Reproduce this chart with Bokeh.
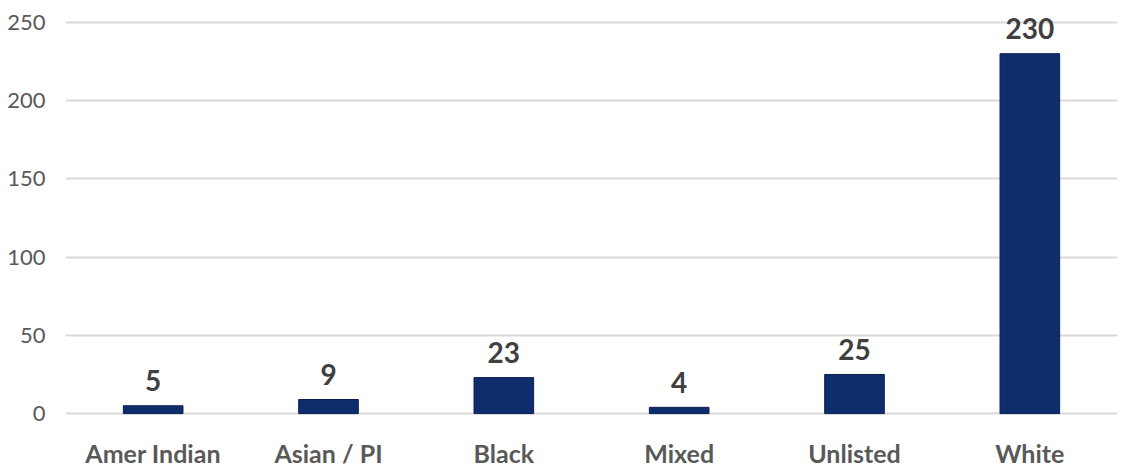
from bokeh.plotting import figure
from bokeh.models import Range1d, ColumnDataSource, FixedTicker, LabelSet
from bokeh.embed import file_html
from bokeh.resources import INLINE
from bokeh.core.properties import value

categories = ["Amer Indian", "Asian / PI", "Black", "Mixed", "Unlisted", "White"]
counts = [5, 9, 23, 4, 25, 230]
y_ticks = [0, 50, 100, 150, 200, 250]

src = ColumnDataSource(dict(cat=categories, val=counts, lab=[str(v) for v in counts],
                            zero=[0] * len(categories)))

p = figure(x_range=categories, y_range=Range1d(-37, 264), width=1122, height=471,
           output_backend="svg", toolbar_location=None,
           min_border_left=65, min_border_right=5, min_border_top=0, min_border_bottom=0)
p.outline_line_color = None
p.background_fill_color = "white"

p.vbar(x="cat", top="val", bottom=0, width=0.34, source=src,
       fill_color="#0f2c6c", line_color="#0a1f4f", line_width=1)

vlabels = LabelSet(x="cat", y="val", text="lab", source=src, text_align="center",
                   text_baseline="middle", y_offset=25, text_font=value("Lato"),
                   text_font_style="bold", text_font_size="28px", text_color="#404040")
p.add_layout(vlabels)

clabels = LabelSet(x="cat", y="zero", text="cat", source=src, text_align="center",
                   text_baseline="middle", y_offset=-39, text_font=value("Lato"),
                   text_font_style="bold", text_font_size="25px", text_color="#595959")
p.add_layout(clabels)

p.xaxis.visible = False
p.xgrid.grid_line_color = None
p.ygrid.grid_line_color = "#d9d9d9"
p.ygrid.grid_line_width = 2
p.yaxis.ticker = FixedTicker(ticks=y_ticks)

ax = p.yaxis[0]
ax.axis_line_color = None
ax.major_tick_line_color = None
ax.minor_tick_line_color = None
ax.major_tick_out = 0
ax.major_tick_in = 0
ax.minor_tick_out = 0
ax.minor_tick_in = 0
ax.major_label_text_font = "Lato"
ax.major_label_text_color = "#595959"
ax.major_label_text_font_size = "22px"
ax.major_label_standoff = 20

open("out.html", "w").write(file_html(p, INLINE))
